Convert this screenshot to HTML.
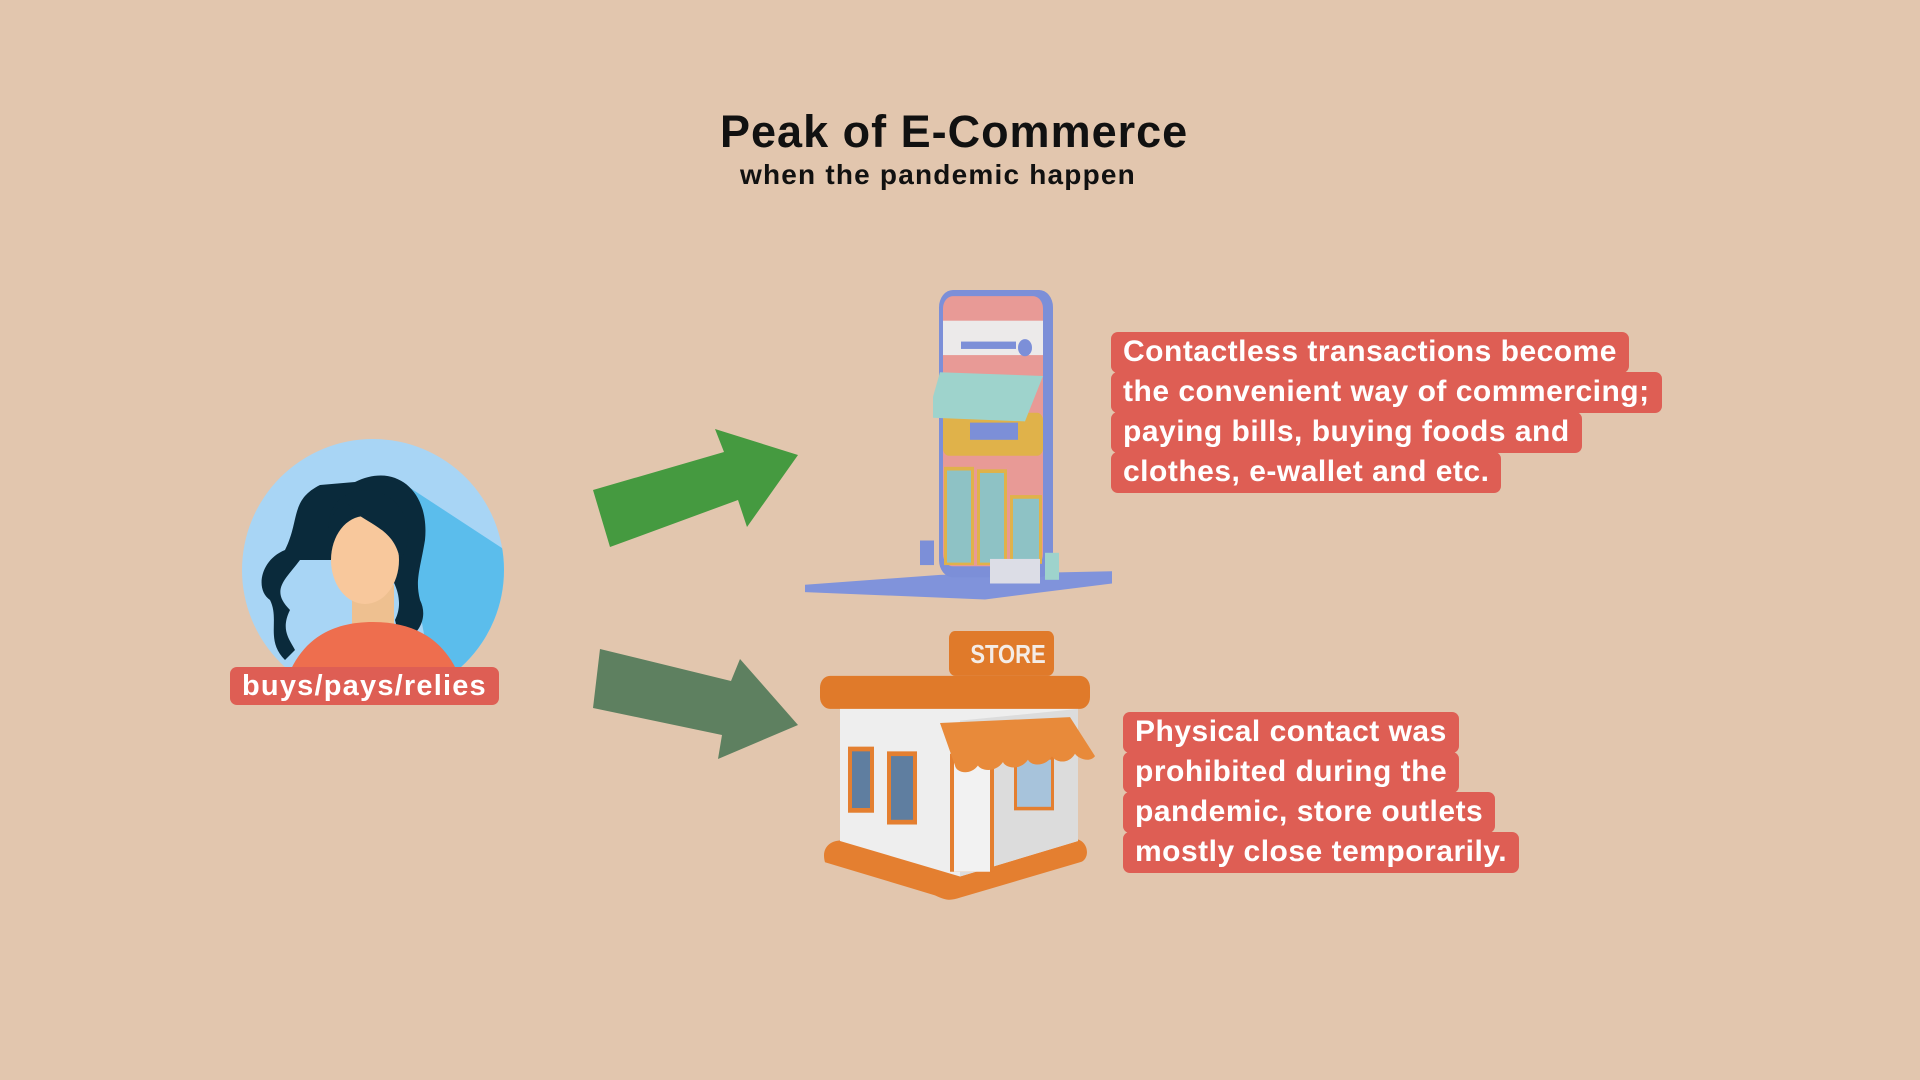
<!DOCTYPE html>
<html><head><meta charset="utf-8"><style>
html,body{margin:0;padding:0}
body{width:1920px;height:1080px;background:#e2c6ae;position:relative;overflow:hidden;font-family:"Liberation Sans",sans-serif}
.t{position:absolute;font-weight:bold;color:#111}
.box{position:absolute;font-weight:bold;color:#fff;font-size:30px;line-height:40px;letter-spacing:0.5px}
.box span{background:#de5e54;padding:3px 12px 5px 12px;border-radius:7px;-webkit-box-decoration-break:clone;box-decoration-break:clone}
</style></head><body>
<div class="t" style="left:720px;top:106px;font-size:45px;letter-spacing:1px">Peak of E-Commerce</div>
<div class="t" style="left:740px;top:159px;font-size:28px;letter-spacing:1.2px">when the pandemic happen</div>

<svg width="1920" height="1080" style="position:absolute;left:0;top:0">
  <defs><clipPath id="cc"><circle cx="373" cy="570" r="131"/></clipPath></defs>
  <g>
    <circle cx="373" cy="570" r="131" fill="#a8d5f5"/>
    <g clip-path="url(#cc)">
      <polygon points="395,478 505,550 520,720 440,720" fill="#5bbdec"/>
      <path d="M355,482 C395,462 430,490 425,540 C420,570 415,580 420,600 C430,620 415,640 400,640 L395,620 C405,600 395,580 380,560 L300,560 C285,580 270,590 290,610 C280,630 290,640 295,650 L285,660 C265,640 280,620 270,600 C255,590 260,560 285,550 C300,520 290,500 320,485 Z" fill="#0a2a3b"/>
      <rect x="352" y="585" width="42" height="45" fill="#eec090"/>
      <path d="M278,720 C285,650 320,622 373,622 C426,622 462,650 470,720 Z" fill="#ee6e4e"/>
      <ellipse cx="365" cy="560" rx="34" ry="44" fill="#f8c89c"/>
      <path d="M328,530 C335,505 345,495 355,512 C370,525 395,530 400,560 C415,540 410,505 380,492 C350,485 328,500 328,530Z" fill="#0a2a3b"/>
    </g>
  </g>
  <polygon points="593,490 724,452 715,429 798,455 747,527 738,500 610,547" fill="#459a40"/>
  <polygon points="600,649 731,681 740,659 798,725 718,759 722,735 593,708" fill="#5e8060"/>

  <g transform="translate(0,290) scale(1,1.228) translate(0,-288)">
    <polygon points="805,528 940,520 1112,517 1112,527 985,540 805,534" fill="#8093db"/>
    <rect x="939" y="288" width="114" height="234" rx="14" fill="#7c8fd8"/>
    <rect x="943" y="293" width="100" height="220" rx="10" fill="#e89a96"/>
    <rect x="943" y="313" width="100" height="28" fill="#eceaea"/>
    <rect x="961" y="330" width="55" height="6" fill="#7c8fd8"/><circle cx="1025" cy="335" r="7" fill="#7c8fd8"/>
    <rect x="943" y="388" width="100" height="35" rx="6" fill="#e0b24a"/>
    <rect x="970" y="396" width="48" height="14" fill="#7c8fd8"/>
    <polygon points="933,375 940,355 1043,358 1025,395 933,392" fill="#9ed3cc"/>
    <rect x="944" y="432" width="30" height="80" fill="#e0b24a"/><rect x="947" y="435" width="24" height="75" fill="#8ec2c5"/>
    <rect x="977" y="434" width="30" height="78" fill="#e0b24a"/><rect x="980" y="437" width="24" height="73" fill="#8ec2c5"/>
    <rect x="1010" y="455" width="32" height="56" fill="#e0b24a"/><rect x="1013" y="458" width="26" height="52" fill="#8ec2c5"/>
    <rect x="990" y="507" width="50" height="20" fill="#dcdde6"/>
    <rect x="920" y="492" width="14" height="20" fill="#7c8fd8"/>
    <rect x="1045" y="502" width="14" height="22" fill="#9ed3cc"/>
  </g>

  <g transform="translate(0,631) scale(1,1.18) translate(0,-574)">
    <path d="M825,770 C820,755 835,750 845,752 L1075,750 C1090,752 1090,768 1080,770 L960,800 C950,803 945,802 935,798 Z" fill="#e47f30"/>
    <polygon points="840,636 1078,636 1078,752 960,782 840,752" fill="#eeeeee"/>
    <polygon points="960,650 1078,640 1078,752 960,782" fill="#dcdcdc"/>
    <rect x="848" y="672" width="26" height="56" fill="#e47f30"/><rect x="852" y="676" width="18" height="48" fill="#5f7ea0"/>
    <rect x="887" y="676" width="30" height="62" fill="#e47f30"/><rect x="891" y="680" width="22" height="54" fill="#5f7ea0"/>
    <rect x="1014" y="680" width="40" height="46" fill="#e47f30"/><rect x="1017" y="683" width="34" height="40" fill="#a7c3db"/>
    <rect x="950" y="678" width="44" height="100" fill="#e47f30"/><rect x="954" y="682" width="36" height="96" fill="#f2f2f2"/>
    <path d="M940,652 L1070,647 L1095,680 C1090,686 1078,682 1075,678 C1068,688 1055,685 1052,680 C1045,690 1030,688 1028,683 C1020,693 1005,690 1003,685 C995,695 980,692 978,688 C970,697 956,694 955,688 Z" fill="#e88a3a"/>
    <rect x="820" y="612" width="270" height="28" rx="10" fill="#e07a2a"/>
    <rect x="949" y="574" width="105" height="38" rx="6" fill="#e07a2a"/>
    <text x="1008" y="601" text-anchor="middle" font-family="Liberation Sans" font-weight="bold" font-size="22" fill="#f4ece6">STORE</text>
  </g>
</svg>

<div class="box" style="left:230px;top:663px;font-size:29px;line-height:46px;letter-spacing:1.2px"><span style="padding:3px 12px 3px 12px">buys/pays/relies</span></div>

<div class="box" style="left:1111px;top:332px;width:620px">
<span>Contactless transactions become<br>the convenient way of commercing;<br>paying bills, buying foods and<br>clothes, e-wallet and etc.</span></div>

<div class="box" style="left:1123px;top:712px;width:460px">
<span>Physical contact was<br>prohibited during the<br>pandemic, store outlets<br>mostly close temporarily.</span></div>
</body></html>
